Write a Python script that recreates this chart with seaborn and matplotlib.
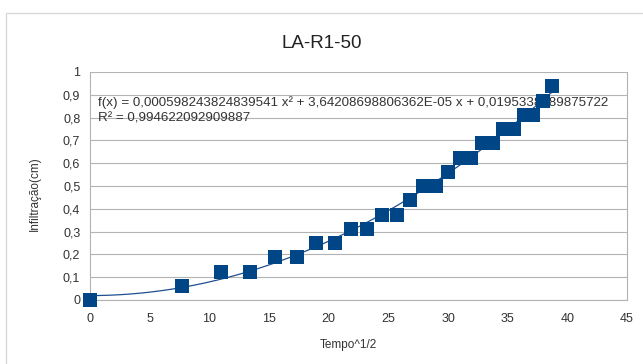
import matplotlib
matplotlib.use('Agg')
import matplotlib.pyplot as plt
import matplotlib.patches as mpatches
import seaborn as sns
import pandas as pd

# tempo^1/2 and infiltration readings
tempo = [0, 7.75, 10.95, 13.42, 15.49, 17.32, 18.97, 20.49, 21.91, 23.24, 24.49,
         25.69, 26.83, 27.93, 28.98, 30.0, 30.98, 31.94, 32.86, 33.76, 34.64,
         35.5, 36.33, 37.15, 37.95, 38.73]
infiltracao = [0, 0.0625, 0.125, 0.125, 0.1875, 0.1875, 0.25, 0.25, 0.3125, 0.3125,
               0.375, 0.375, 0.4375, 0.5, 0.5, 0.5625, 0.625, 0.625, 0.6875, 0.6875,
               0.75, 0.75, 0.8125, 0.8125, 0.875, 0.9375]
xticks = [0, 5, 10, 15, 20, 25, 30, 35, 40, 45]
yticks = [0, 0.1, 0.2, 0.3, 0.4, 0.5, 0.6, 0.7, 0.8, 0.9, 1]
eq_text = 'f(x) = 0,000598243824839541 x² + 3,64208698806362E-05 x + 0,0195338489875722'
r2_text = 'R² = 0,994622092909887'

data = pd.DataFrame({'Tempo^1/2': tempo, 'Infiltração(cm)': infiltracao})

sns.set_style('white')
plt.rcParams['font.family'] = ['Liberation Sans', 'DejaVu Sans']

fig = plt.figure(figsize=(6.43, 3.64), dpi=100)
# light frame around the chart area
fig.patches.append(mpatches.Rectangle((6/643, -0.1), 1.2, 1.1 - 13/364,
                                      transform=fig.transFigure, fill=False,
                                      edgecolor='#d9d9d9', linewidth=1))
ax = fig.add_axes([90/643, 64/364, 537/643, 228/364])

blue = '#004586'
sns.regplot(data=data, x='Tempo^1/2', y='Infiltração(cm)', order=2, ci=None, ax=ax,
            marker='s', scatter_kws={'s': 90, 'color': blue, 'alpha': 1, 'zorder': 4,
                                     'linewidths': 0, 'clip_on': False},
            line_kws={'color': '#1f4f8f', 'linewidth': 0.9, 'zorder': 3})

ax.set_xlim(0, 45)
ax.set_ylim(0, 1)
ax.set_xticks(xticks)
ax.set_yticks(yticks)
ax.set_xticklabels([str(t) for t in xticks])
ax.set_yticklabels([('%g' % t).replace('.', ',') for t in yticks])
ax.yaxis.grid(True, color='#b3b3b3', linewidth=0.8)
ax.set_axisbelow(True)
for s in ['left', 'bottom', 'right']:
    ax.spines[s].set_color('#b3b3b3')
    ax.spines[s].set_linewidth(0.8)
ax.spines['top'].set_visible(False)
ax.tick_params(axis='both', length=4, width=0.8, color='#b3b3b3', labelsize=9,
               labelcolor='#333333', pad=3)
ax.xaxis.set_tick_params(pad=5)

ax.set_xlabel('Tempo^1/2', fontsize=8.5, color='#333333')
ax.xaxis.set_label_coords((348 - 90) / 537, (300 - 345) / 228)
ax.xaxis.label.set_va('center')
ax.set_ylabel('Infiltração(cm)', fontsize=8.5, color='#333333')
ax.yaxis.set_label_coords((35 - 90) / 537, (300 - 194) / 228)
ax.yaxis.label.set_va('center')
fig.text(322 / 643, (364 - 44) / 364, 'LA-R1-50', fontsize=13.5, color='#222222',
         ha='center', va='center')

ax.text(0.015, 0.864, eq_text, transform=ax.transAxes, fontsize=9.6,
        color='#333333', va='center', zorder=2)
ax.text(0.015, 0.794, r2_text, transform=ax.transAxes, fontsize=9.6,
        color='#333333', va='center', zorder=2)

fig.savefig('out.png', dpi=100)
